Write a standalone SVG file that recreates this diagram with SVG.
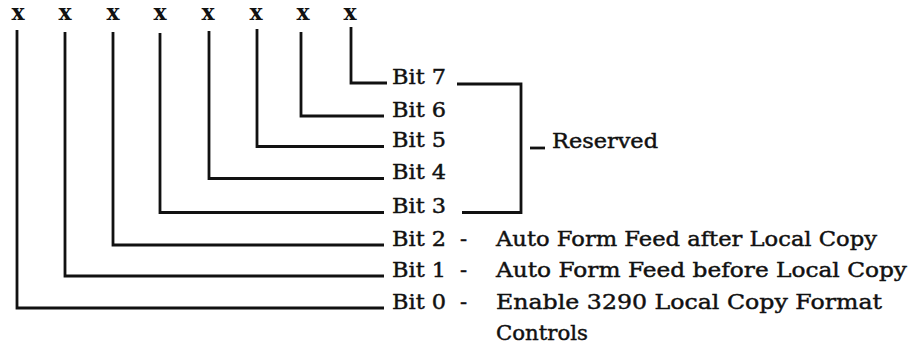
<svg xmlns="http://www.w3.org/2000/svg" width="913" height="347" viewBox="0 0 913 347">
<style>
.x{font-family:"DejaVu Serif","Liberation Serif",serif;font-weight:bold;font-size:22px;fill:#111;text-anchor:middle}
.t{font-family:"DejaVu Serif","Liberation Serif",serif;font-size:21px;fill:#111;stroke:#111;stroke-width:0.45}
.ln{fill:none;stroke:#111;stroke-width:2.8;stroke-linejoin:miter}
</style>
<rect width="913" height="347" fill="#fff"/>
<g id="connectors">
<path class="ln" d="M17,30 V308 H384"/>
<path class="ln" d="M65,32 V276 H384"/>
<path class="ln" d="M113,32 V245 H384"/>
<path class="ln" d="M160,33 V212.5 H384"/>
<path class="ln" d="M209,31 V178.5 H384"/>
<path class="ln" d="M257,29 V146.5 H384"/>
<path class="ln" d="M301,32 V116 H384"/>
<path class="ln" d="M351,27 V83 H387"/>
<path class="ln" d="M457,84 H521 V212.5 H462"/>
<path class="ln" d="M530,148 H545"/>
</g>
<g id="bit0"><text class="x" x="18" y="20">x</text><text class="t" x="392" y="309" textLength="54" lengthAdjust="spacingAndGlyphs">Bit 0</text><text class="t" x="460" y="309">-</text><text class="t" x="496" y="309" textLength="386" lengthAdjust="spacingAndGlyphs">Enable 3290 Local Copy Format</text><text class="t" x="496" y="340" textLength="92" lengthAdjust="spacingAndGlyphs">Controls</text></g>
<g id="bit1"><text class="x" x="65" y="20">x</text><text class="t" x="392" y="277" textLength="54" lengthAdjust="spacingAndGlyphs">Bit 1</text><text class="t" x="460" y="277">-</text><text class="t" x="496" y="277" textLength="411" lengthAdjust="spacingAndGlyphs">Auto Form Feed before Local Copy</text></g>
<g id="bit2"><text class="x" x="113" y="20">x</text><text class="t" x="392" y="246" textLength="54" lengthAdjust="spacingAndGlyphs">Bit 2</text><text class="t" x="460" y="246">-</text><text class="t" x="496" y="246" textLength="381" lengthAdjust="spacingAndGlyphs">Auto Form Feed after Local Copy</text></g>
<g id="bit3"><text class="x" x="160" y="20">x</text><text class="t" x="392" y="213" textLength="54" lengthAdjust="spacingAndGlyphs">Bit 3</text></g>
<g id="bit4"><text class="x" x="208" y="20">x</text><text class="t" x="392" y="179" textLength="54" lengthAdjust="spacingAndGlyphs">Bit 4</text></g>
<g id="bit5"><text class="x" x="256" y="20">x</text><text class="t" x="392" y="147" textLength="54" lengthAdjust="spacingAndGlyphs">Bit 5</text></g>
<g id="bit6"><text class="x" x="303" y="20">x</text><text class="t" x="392" y="117" textLength="54" lengthAdjust="spacingAndGlyphs">Bit 6</text></g>
<g id="bit7"><text class="x" x="350" y="20">x</text><text class="t" x="392" y="84" textLength="54" lengthAdjust="spacingAndGlyphs">Bit 7</text></g>
<g id="reserved"><text class="t" x="552" y="148" textLength="106" lengthAdjust="spacingAndGlyphs">Reserved</text></g>
</svg>
